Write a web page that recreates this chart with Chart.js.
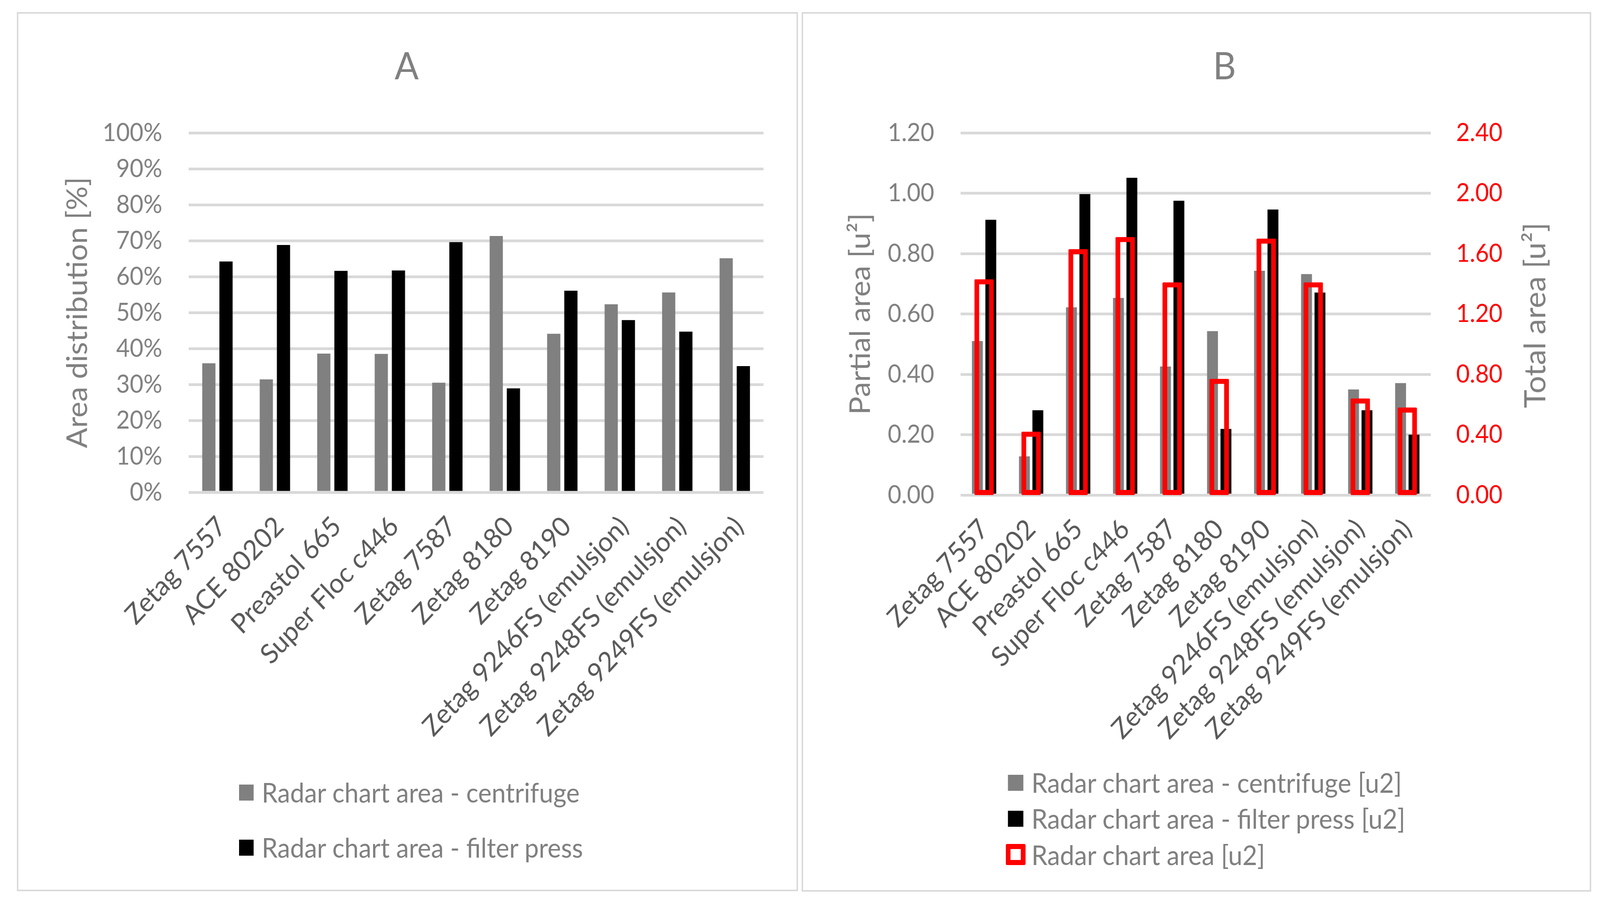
<!DOCTYPE html>
<html>
<head>
<meta charset="utf-8">
<script src="https://cdn.jsdelivr.net/npm/chart.js@4.4.1/dist/chart.umd.min.js"></script>
<style>
html,body{margin:0;padding:0;background:#fff;overflow:hidden;}
#wrap{position:absolute;left:0;top:0;width:4359px;height:2306px;transform-origin:0 0;background:#fff;}
.panel{position:absolute;border:4px solid #d9d9d9;box-sizing:border-box;background:#fff;}
#pA{left:46px;top:31px;width:2128px;height:2250px;}
#pB{left:2184px;top:31px;width:2151px;height:2251px;}
canvas{position:absolute;}
.t{position:absolute;font-family:Lato,sans-serif;color:#808080;white-space:nowrap;line-height:1.2;}
.mk{position:absolute;box-sizing:border-box;}
</style>
</head>
<body>
<div id="wrap">
<div class="panel" id="pA"></div>
<div class="panel" id="pB"></div>
<canvas id="cA" width="2120" height="2242" style="left:50px;top:35px;width:2120px;height:2242px;"></canvas>
<canvas id="cB" width="2143" height="2243" style="left:2188px;top:35px;width:2143px;height:2243px;"></canvas>
</div>
<script>
// ---------- data ----------
const categories = ['Zetag 7557','ACE 80202','Preastol 665','Super Floc c446','Zetag 7587','Zetag 8180','Zetag 8190','Zetag 9246FS (emulsjon)','Zetag 9248FS (emulsjon)','Zetag 9249FS (emulsjon)'];
const shareCentrifuge = [35.9, 31.4, 38.6, 38.5, 30.5, 71.3, 44.1, 52.3, 55.6, 65.1];
const shareFilterPress = [64.2, 68.8, 61.6, 61.7, 69.6, 28.9, 56.1, 47.9, 44.7, 35.1];
const areaCentrifuge = [0.51, 0.128, 0.622, 0.653, 0.426, 0.543, 0.743, 0.732, 0.350, 0.371];
const areaFilterPress = [0.912, 0.281, 0.997, 1.051, 0.975, 0.219, 0.946, 0.671, 0.281, 0.200];
const areaTotal = [1.43, 0.42, 1.63, 1.71, 1.41, 0.77, 1.70, 1.41, 0.64, 0.58];
const ticksA = [0,10,20,30,40,50,60,70,80,90,100];
const ticksBLeft = [0,0.2,0.4,0.6,0.8,1.0,1.2];
const ticksBRight = [0,0.4,0.8,1.2,1.6,2.0,2.4];
const legendA = ['Radar chart area - centrifuge','Radar chart area - filter press'];
const legendB = ['Radar chart area - centrifuge [u2]','Radar chart area - filter press [u2]','Radar chart area [u2]'];

// ---------- fit the 4359x2306 layout to the actual viewport ----------
const wrap = document.getElementById('wrap');
const sx = (window.innerWidth || 4359) / 4359;
const sy = (window.innerHeight || 2306) / 2306;
wrap.style.transform = 'scale(' + sx + ',' + sy + ')';

// ---------- helpers ----------
const FAM = 'Lato';
const mctx = document.createElement('canvas').getContext('2d');
function fitSize(text, width){ mctx.font = '100px ' + FAM; return 100 * width / mctx.measureText(text).width; }
function addText(text, x, y, size, extra){
  const d = document.createElement('div');
  d.className = 't';
  d.textContent = text;
  d.style.left = x + 'px'; d.style.top = y + 'px'; d.style.fontSize = size + 'px';
  d.style.transform = 'translate(-50%,-50%)' + (extra || '');
  wrap.appendChild(d);
  return d;
}
function addLegendText(text, x, cy, size){
  const d = document.createElement('div');
  d.className = 't';
  d.textContent = text;
  d.style.left = x + 'px'; d.style.top = cy + 'px'; d.style.fontSize = size + 'px';
  d.style.lineHeight = '1'; d.style.transform = 'translateY(-50%)';
  wrap.appendChild(d);
}
function addMarker(x, cy, w, h, css){
  const d = document.createElement('div');
  d.className = 'mk';
  d.style.left = x + 'px'; d.style.top = (cy - h/2) + 'px'; d.style.width = w + 'px'; d.style.height = h + 'px';
  Object.assign(d.style, css);
  wrap.appendChild(d);
}

const tickFont = {family: FAM, size: 64};
const catFont = {family: FAM, size: 70};
const grid = {color: '#d9d9d9', lineWidth: 7, drawTicks: false};

// ---------- titles ----------
addText('A', 1108, 166, 97);
addText('B', 3336, 166, 97);
const rtSize = fitSize('Total area [u\u00B2]', 475);
addText('Total area [u\u00B2]', 4180, 807, rtSize, ' rotate(-90deg)');

// ---------- legends ----------
const lgA = fitSize(legendA[0], 868);
addMarker(651, 2028, 40, 41, {background: '#808080'});
addLegendText(legendA[0], 713, 2028, lgA);
addMarker(651, 2169, 40, 41, {background: '#000000'});
addLegendText(legendA[1], 713, 2169, lgA);

const lgB = fitSize(legendB[0], 1011);
addMarker(2746, 2003, 42, 41, {background: '#808080'});
addLegendText(legendB[0], 2810, 2003, lgB);
addMarker(2746, 2095, 42, 41, {background: '#000000'});
addLegendText(legendB[1], 2810, 2095, lgB);
addMarker(2740, 2187, 54, 54, {border: '13px solid #ff0000', borderRadius: '4px', background: '#fff'});
addLegendText(legendB[2], 2810, 2188, lgB);

Chart.defaults.font.family = FAM;

// ---------- chart A ----------
const tA = fitSize('Area distribution [%]', 694);
new Chart(document.getElementById('cA'), {
  type: 'bar',
  data: {
    labels: categories,
    datasets: [
      {label: legendA[0], data: shareCentrifuge, backgroundColor: '#808080', categoryPercentage: 0.597, barPercentage: 0.77},
      {label: legendA[1], data: shareFilterPress, backgroundColor: '#000000', categoryPercentage: 0.597, barPercentage: 0.77}
    ]
  },
  options: {
    responsive: false, devicePixelRatio: 1, animation: false, events: [],
    layout: {padding: {top: 305, right: 90, left: 0, bottom: 0}},
    plugins: {legend: {display: false}, tooltip: {enabled: false}, title: {display: false}},
    scales: {
      x: {
        grid: {display: false, drawTicks: false}, border: {display: false},
        ticks: {color: '#595959', font: catFont, maxRotation: 45, minRotation: 45, padding: 46, labelOffset: 12, autoSkip: false},
        afterFit: a => { a.height = 1017; }
      },
      y: {
        min: 0, max: 100,
        afterBuildTicks: a => { a.ticks = ticksA.map(v => ({value: v})); },
        ticks: {color: '#808080', font: tickFont, padding: 72, callback: v => v + '%'},
        grid: grid, border: {display: false},
        title: {display: true, text: 'Area distribution [%]', color: '#808080', font: {family: FAM, size: tA, lineHeight: 1.2}, padding: {top: 162 - tA * 0.6, bottom: 0}},
        afterFit: a => { a.width = 464; }
      }
    }
  }
});

// ---------- chart B ----------
const tB = fitSize('Partial area [u\u00B2]', 516);
new Chart(document.getElementById('cB'), {
  type: 'bar',
  data: {
    labels: categories,
    datasets: [
      {label: legendB[0], data: areaCentrifuge, backgroundColor: '#808080', categoryPercentage: 0.571, barPercentage: 0.81, yAxisID: 'y', order: 0},
      {label: legendB[1], data: areaFilterPress, backgroundColor: '#000000', categoryPercentage: 0.571, barPercentage: 0.81, yAxisID: 'y', order: 0},
      {label: legendB[2], data: areaTotal, backgroundColor: 'rgba(0,0,0,0)', borderColor: '#ff0000', borderWidth: 13, borderSkipped: false, borderRadius: 3,
       grouped: false, categoryPercentage: 1, barPercentage: 0.414, yAxisID: 'y1', order: -1}
    ]
  },
  options: {
    responsive: false, devicePixelRatio: 1, animation: false, events: [],
    layout: {padding: {top: 305, right: 0, left: 0, bottom: 0}},
    plugins: {legend: {display: false}, tooltip: {enabled: false}, title: {display: false}},
    scales: {
      x: {
        grid: {display: false, drawTicks: false}, border: {display: false},
        ticks: {color: '#595959', font: catFont, maxRotation: 45, minRotation: 45, padding: 46, autoSkip: false},
        afterFit: a => { a.height = 1011; }
      },
      y: {
        position: 'left', min: 0, max: 1.2,
        afterBuildTicks: a => { a.ticks = ticksBLeft.map(v => ({value: v})); },
        ticks: {color: '#808080', font: tickFont, padding: 72, callback: v => Number(v).toFixed(2)},
        grid: grid, border: {display: false},
        title: {display: true, text: 'Partial area [u\u00B2]', color: '#808080', font: {family: FAM, size: tB, lineHeight: 1.2}, padding: {top: 157 - tB * 0.6, bottom: 0}},
        afterFit: a => { a.width = 429; }
      },
      y1: {
        position: 'right', min: 0, max: 2.4,
        afterBuildTicks: a => { a.ticks = ticksBRight.map(v => ({value: v})); },
        ticks: {color: '#ff0000', font: tickFont, padding: 69, callback: v => Number(v).toFixed(2)},
        grid: {display: false, drawTicks: false}, border: {display: false},
        afterFit: a => { a.width = 433; }
      }
    }
  }
});
</script>
</body>
</html>
